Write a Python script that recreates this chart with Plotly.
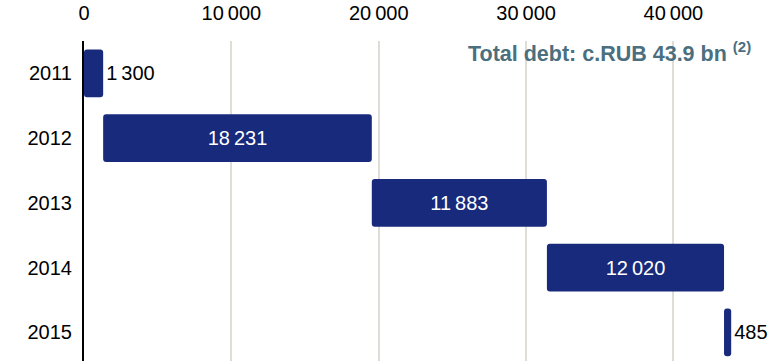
import plotly.graph_objects as go

# Debt repayment schedule (RUB mn), shown as a cumulative waterfall
years = ["2011", "2012", "2013", "2014", "2015"]
repayments = [1300, 18231, 11883, 12020, 485]
x_ticks = [0, 10000, 20000, 30000, 40000]

# each bar starts where the previous one ended
bases = []
running = 0
for v in repayments:
    bases.append(running)
    running += v
total = running

BAR_COLOR = "#172A7B"
GRID_COLOR = "#E0DCD8"
NOTE_COLOR = "#4B6F7E"
FONT = "Liberation Sans, Arial, sans-serif"

label_pos = ["inside" if v > 5000 else "outside" for v in repayments]

fig = go.Figure(
    go.Bar(
        y=years,
        x=repayments,
        base=bases,
        orientation="h",
        marker=dict(color=BAR_COLOR, line=dict(width=0)),
        texttemplate="%{x:,}",
        textposition=label_pos,
        insidetextanchor="middle",
        insidetextfont=dict(family=FONT, size=20, color="white"),
        outsidetextfont=dict(family=FONT, size=20, color="black"),
        constraintext="none",
        cliponaxis=False,
    )
)

fig.add_annotation(
    x=1, xref="paper", xanchor="right",
    y=0.966, yref="paper", yanchor="middle",
    text=f"<b>Total debt: c.RUB {total/1000:.1f} bn <sup>(2)</sup></b>",
    showarrow=False,
    font=dict(family=FONT, size=21.5, color=NOTE_COLOR),
)

fig.update_layout(
    width=781,
    height=361,
    autosize=False,
    margin=dict(l=84, r=28, t=41, b=0),
    paper_bgcolor="white",
    plot_bgcolor="white",
    separators=".\u2009",
    bargap=0.266,
    barcornerradius=3,
    showlegend=False,
    font=dict(family=FONT, size=20, color="black"),
)

fig.update_xaxes(
    side="top",
    range=[0, 45400],
    tickvals=x_ticks,
    tickformat=",",
    ticks="",
    ticklabelstandoff=16,
    showgrid=True,
    gridcolor=GRID_COLOR,
    gridwidth=1.6,
    zeroline=False,
    showline=False,
    tickfont=dict(family=FONT, size=20, color="black"),
)

fig.update_yaxes(
    type="category",
    categoryorder="array",
    categoryarray=years,
    range=[4.442, -0.5],
    ticks="",
    ticklabelstandoff=6,
    showgrid=False,
    zeroline=False,
    showline=True,
    linecolor="black",
    linewidth=2,
    tickfont=dict(family=FONT, size=20, color="black"),
)

fig.write_html("out.html")
